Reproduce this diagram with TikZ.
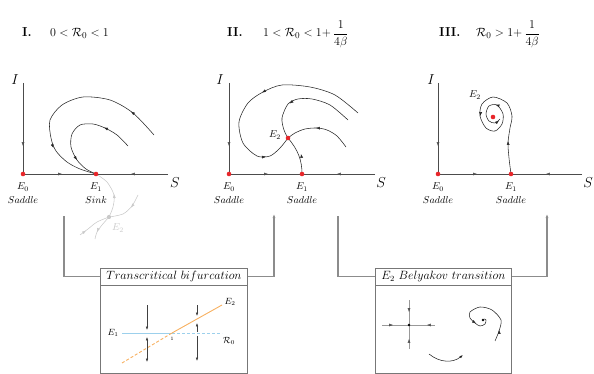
\documentclass[tikz,border=0pt]{standalone}
\usepackage{amsmath}
\usetikzlibrary{arrows.meta}
\definecolor{dotred}{HTML}{E8262A}
\definecolor{ghost}{HTML}{C9C9C9}
\definecolor{lblue}{HTML}{9CD0EC}
\definecolor{lorange}{HTML}{F7B060}
\definecolor{conn}{HTML}{8C8C8C}
\definecolor{boxc}{HTML}{777777}
\newcommand\tipat[4][black!85]{\begin{scope}[color=#1]\pgftransformshift{\pgfpointxy{#2}{#3}}\pgftransformrotate{#4}\pgfarrowdraw{Latex[length=3.9pt,width=2.9pt]}\end{scope}}
\tikzset{
  traj/.style={draw=black!85,line width=0.55pt},
  gtraj/.style={draw=ghost,line width=0.55pt},
  axl/.style={draw=black!70,line width=0.6pt},
  rdot/.style={circle,fill=dotred,inner sep=0pt,minimum size=4.6pt},
  gdot/.style={circle,fill=ghost,inner sep=0pt,minimum size=4.2pt},
  bdot/.style={circle,fill=black,inner sep=0pt,minimum size=2.6pt},
  lab/.style={inner sep=0pt,font=\normalsize},
  axlab/.style={inner sep=0pt,font=\Large},
  ttl/.style={inner sep=0pt,font=\fontsize{13}{15}\selectfont,anchor=base west},
  connl/.style={draw=conn,line width=1.1pt},
  boxn/.style={draw=boxc,line width=0.8pt,anchor=north west,inner sep=0pt},
  boxtitle/.style={draw=boxc,line width=0.8pt,anchor=north west,inner sep=0pt,font=\large},
  sarr/.style={draw=black!75,line width=0.5pt,-{Latex[length=3.4pt,width=2.6pt]}},
  crossl/.style={draw=black!40,line width=0.8pt},
}
\begin{document}
\begin{tikzpicture}[x=1pt,y=-1pt]
\useasboundingbox (0,0) rectangle (594,374);

% ---------- titles ----------
\node[ttl] (t1a) at (22,37) {\textbf{I.}};
\node[ttl] (t1b) at (50,37) {$0<\mathcal{R}_0<1$};
\node[ttl] (t2a) at (227,37) {\textbf{II.}};
\node[ttl] (t2b) at (263,37) {$1<\mathcal{R}_0<1{+}\,\dfrac{1}{4\beta}$};
\node[ttl] (t3a) at (439,37) {\textbf{III.}};
\node[ttl] (t3b) at (476,37) {$\mathcal{R}_0>1{+}\,\dfrac{1}{4\beta}$};

% ---------- panel I ----------
\coordinate (Ia) at (23,83);
\coordinate (pE0a) at (23,174);
\coordinate (pE1a) at (96,174);
\coordinate (Sa) at (168,174);
\draw[axl] (Ia) -- (pE0a);
\draw[axl] (pE0a) -- (pE1a);
\draw[axl] (Sa) -- (pE1a);
\tipat[black!70]{23}{146}{-90}
\tipat[black!70]{62}{174}{0}
\tipat[black!70]{131}{174}{180}
\node[axlab] (Ilab1) at (15,80) {$I$};
\node[axlab] (Slab1) at (175,183) {$S$};
\draw[traj] plot[smooth] coordinates {(154,135) (133,113) (110,100) (83,97) (62,105) (50,120) (51,138) (56,151) (67,162) (80,169) (96,174)};
\tipat{131}{111.5}{142}
\tipat{53.5}{148}{-69}
\draw[traj] plot[smooth] coordinates {(128,146) (117,135) (105,128) (93,124) (80,125) (72,134) (71,147) (77,160) (86,169) (96,174)};
\tipat{104}{127.6}{158}
\tipat{77}{160}{-56}
% ghost E2 (unphysical)
\draw[gtraj] plot[smooth] coordinates {(109,217) (113,207) (114,195) (107,182) (96,174)};
\draw[gtraj] plot[smooth] coordinates {(109,217) (102,225) (97,232) (95,239)};
\draw[gtraj] plot[smooth] coordinates {(138,195) (132,206) (123,214) (109,217)};
\draw[gtraj] plot[smooth] coordinates {(80,235) (88,229) (97,222) (109,217)};
\tipat[ghost]{114}{194}{95}
\tipat[ghost]{97}{232}{-112}
\tipat[ghost]{131}{207.5}{-128}
\tipat[ghost]{86}{230.5}{37}
\node[gdot] (gE2) at (109,217) {};
\node[lab,text=ghost] (gE2l) at (118,228) {$E_2$};
\node[rdot] (dE0a) at (pE0a) {};
\node[rdot] (dE1a) at (pE1a) {};
\node[lab] (E0la) at (23,187) {$E_0$};
\node[lab] (E0sa) at (23,200) {$Saddle$};
\node[lab] (E1la) at (96,187) {$E_1$};
\node[lab] (E1sa) at (96,200) {$Sink$};

% ---------- panel II ----------
\coordinate (Ib) at (229,83);
\coordinate (pE0b) at (229,174);
\coordinate (pE1b) at (302,174);
\coordinate (pE2b) at (288,138);
\coordinate (Sb) at (375,174);
\draw[axl] (Ib) -- (pE0b);
\draw[axl] (pE0b) -- (pE1b);
\draw[axl] (Sb) -- (pE1b);
\tipat[black!70]{229}{146}{-90}
\tipat[black!70]{268}{174}{0}
\tipat[black!70]{337}{174}{180}
\node[axlab] (Ilab2) at (220,80) {$I$};
\node[axlab] (Slab2) at (381,183) {$S$};
\draw[traj] plot[smooth] coordinates {(358,113) (335,95) (310,87) (282,85) (263,92) (248,103) (239,122) (243,143) (257,156) (270,156) (280,148) (288,138)};
\tipat{262}{92.6}{-150}
\tipat{266}{156.6}{8}
\draw[traj] plot[smooth] coordinates {(348,120) (330,105) (312,99) (298,99) (288,104) (282,118) (284,130) (288,138)};
\tipat{289.5}{103.5}{-145}
\draw[traj] plot[smooth] coordinates {(346,147) (337,136) (327,130) (317,128) (305,129) (295,133) (288,138)};
\tipat{316}{128}{178}
\draw[traj] (pE1b) .. controls (302,160) and (298,150) .. (pE2b);
\tipat{301}{154}{100}
\node[rdot] (dE0b) at (pE0b) {};
\node[rdot] (dE1b) at (pE1b) {};
\node[rdot] (dE2b) at (pE2b) {};
\node[lab] (E2lb) at (275,135) {$E_2$};
\node[lab] (E0lb) at (229,187) {$E_0$};
\node[lab] (E0sb) at (229,200) {$Saddle$};
\node[lab] (E1lb) at (302,187) {$E_1$};
\node[lab] (E1sb) at (302,200) {$Saddle$};

% ---------- panel III ----------
\coordinate (Ic) at (438,83);
\coordinate (pE0c) at (438,174);
\coordinate (pE1c) at (511,174);
\coordinate (pE2c) at (493,117);
\coordinate (Sc) at (582,174);
\draw[axl] (Ic) -- (pE0c);
\draw[axl] (pE0c) -- (pE1c);
\draw[axl] (Sc) -- (pE1c);
\tipat[black!70]{438}{146}{-90}
\tipat[black!70]{477}{174}{0}
\tipat[black!70]{546}{174}{180}
\node[axlab] (Ilab3) at (431,80) {$I$};
\node[axlab] (Slab3) at (588,183) {$S$};
\draw[traj] plot[smooth] coordinates {(511,174) (509,158) (508,143) (510,128) (512,116) (507,103) (493,97) (482,104) (480,116) (486,128) (495,131) (502,124) (503,114) (497,105) (489,106) (486,114) (489,121) (495,123) (500,119)};
\tipat{508}{141}{92}
\tipat{480.3}{116}{-95}
\tipat{495.5}{104.8}{165}
\tipat{499}{120.5}{40}
\node[rdot] (dE0c) at (pE0c) {};
\node[rdot] (dE1c) at (pE1c) {};
\node[rdot] (dE2c) at (pE2c) {};
\node[lab] (E2lc) at (475,95) {$E_2$};
\node[lab] (E0lc) at (438,187) {$E_0$};
\node[lab] (E0sc) at (438,200) {$Saddle$};
\node[lab] (E1lc) at (511,187) {$E_1$};
\node[lab] (E1sc) at (511,200) {$Saddle$};

% ---------- boxes ----------
\node[boxn,minimum width=147pt,minimum height=105pt] (B1) at (100,268) {};
\node[boxtitle,minimum width=147pt,minimum height=17pt] (T1) at (100,268) {$Transcritical\ bifurcation$};
\node[boxn,minimum width=136pt,minimum height=105pt] (B2) at (375,268) {};
\node[boxtitle,minimum width=136pt,minimum height=17pt] (T2) at (375,268) {$E_2\ Belyakov\ transition$};

% ---------- connectors ----------
\coordinate (c1s) at (64,216);
\coordinate (c2e) at (274,214);
\coordinate (c3s) at (338,216);
\coordinate (c4e) at (547,214);
\draw[connl] (c1s) |- (T1.west);
\draw[connl,-{Latex[length=4pt,width=3pt]}] (T1.east) -| (c2e);
\draw[connl] (c3s) |- (T2.west);
\draw[connl,-{Latex[length=4pt,width=3pt]}] (T2.east) -| (c4e);

% ---------- box 1 content ----------
\coordinate (bif) at (172,333);
\coordinate (bl) at (122,333);
\coordinate (br) at (222,333);
\coordinate (ol) at (122,363);
\coordinate (orr) at (222,305);
\draw[lblue,line width=0.9pt] (bl) -- (bif);
\draw[lblue,line width=0.9pt,dash pattern=on 3pt off 2pt] (bif) -- (br);
\draw[lorange,line width=0.9pt] (bif) -- (orr);
\draw[lorange,line width=0.9pt,dash pattern=on 3pt off 2pt] (ol) -- (bif);
\node[lab,font=\small] (bE1) at (113,333) {$E_1$};
\node[lab,font=\small] (bE2) at (230,302) {$E_2$};
\node[lab,font=\small] (bR0) at (229,341) {$\mathcal{R}_0$};
\node[lab,font=\tiny] (b1) at (172,339) {$1$};
\draw[sarr] (147,305) -- (147,330);
\draw[sarr] (147,348) -- (147,337);
\draw[sarr] (147,348) -- (147,362);
\draw[sarr] (197,305) -- (197,316);
\draw[sarr] (197,332) -- (197,323);
\draw[sarr] (197,336) -- (197,361);

% ---------- box 2 content ----------
\coordinate (cc) at (409,325);
\coordinate (cN) at (409,300);
\coordinate (cS) at (409,349);
\coordinate (cW) at (382,325);
\coordinate (cE) at (435,325);
\draw[crossl] (cN) -- (cS);
\draw[crossl] (cW) -- (cE);
\tipat[black!70]{409}{312}{-90}
\tipat[black!70]{409}{339}{90}
\tipat[black!70]{393}{325}{0}
\tipat[black!70]{427}{325}{180}
\node[bdot] (ccd) at (cc) {};
\draw[traj] plot[smooth] coordinates {(495,341) (499,331) (501,320) (492,310) (480,307) (470,312) (470,318) (475,323) (480,326) (485,324) (486,320) (484,319)};
\tipat{499}{330}{95}
\tipat{476}{323.5}{-35}
\node[bdot] (spd) at (483,320) {};
\coordinate (ba) at (429,354);
\coordinate (bb) at (463,355);
\draw[traj,-{Latex[length=3.6pt,width=2.6pt]}] (ba) .. controls (440,363) and (453,363) .. (bb);
\end{tikzpicture}
\end{document}
